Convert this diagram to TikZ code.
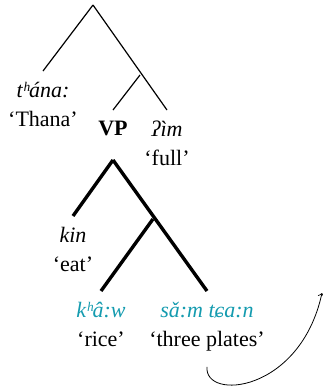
\documentclass[tikz,border=0pt]{standalone}
\usepackage{fontspec}
\setmainfont{Liberation Serif}
\usepackage{tikz}
\usetikzlibrary{arrows}
\definecolor{thaiword}{RGB}{20,155,175}
\tikzstyle{word} = [anchor=north, align=center, inner xsep=0pt, inner ysep=5.5pt, font=\fontsize{11}{14.5}\selectfont]
\tikzstyle{branch} = [line width=0.6pt]
\tikzstyle{branchBig} = [line width=1.7pt]
\tikzstyle{arrow} = [thin,->,>=to]

\begin{document}
\begin{tikzpicture}[x=0.5pt, y=-0.5pt]
		\useasboundingbox (0,0) rectangle (323,388);
		
		\coordinate (root) at (93,5);
		\coordinate (mid) at (140,75);
		\coordinate (vphead) at (113,160);
		\coordinate (midlow) at (153,219);
		
		\node (thana) [word] at (43,71) {\textit{tʰána:}\\‘Thana’};
		\node (vp) [word] at (113,110) {\textbf{VP}};
		\node (im) [word] at (167,110) {\textit{ʔìm}\\‘full’};
		
		\node (kin) [word] at (73,216) {\textit{kin}\\‘eat’};
		\node (khaw) [word] at (101,291) {\textcolor{thaiword}{\textit{kʰâ:w}}\\‘rice’};
		\node (sam) [word] at (207,291) {\textcolor{thaiword}{\textit{sǎ:m tɕa:n}}\\‘three plates’};
		
		\coordinate (tip) at (322,293);
		
		\draw [arrow] ([yshift=-2pt]sam.south) .. controls (204,401) and (300,393) .. (tip);
		
		\draw [branch] (root) -- (thana.north);
		\draw [branch] (root) -- (im.north);
		\draw [branch] (mid) -- (vp.north);
		
		\draw [branchBig] (vphead) -- (kin.north);
		\draw [branchBig] (vphead) -- (sam.north);
		\draw [branchBig] (midlow) -- (khaw.north);
		
\end{tikzpicture}
\end{document}
